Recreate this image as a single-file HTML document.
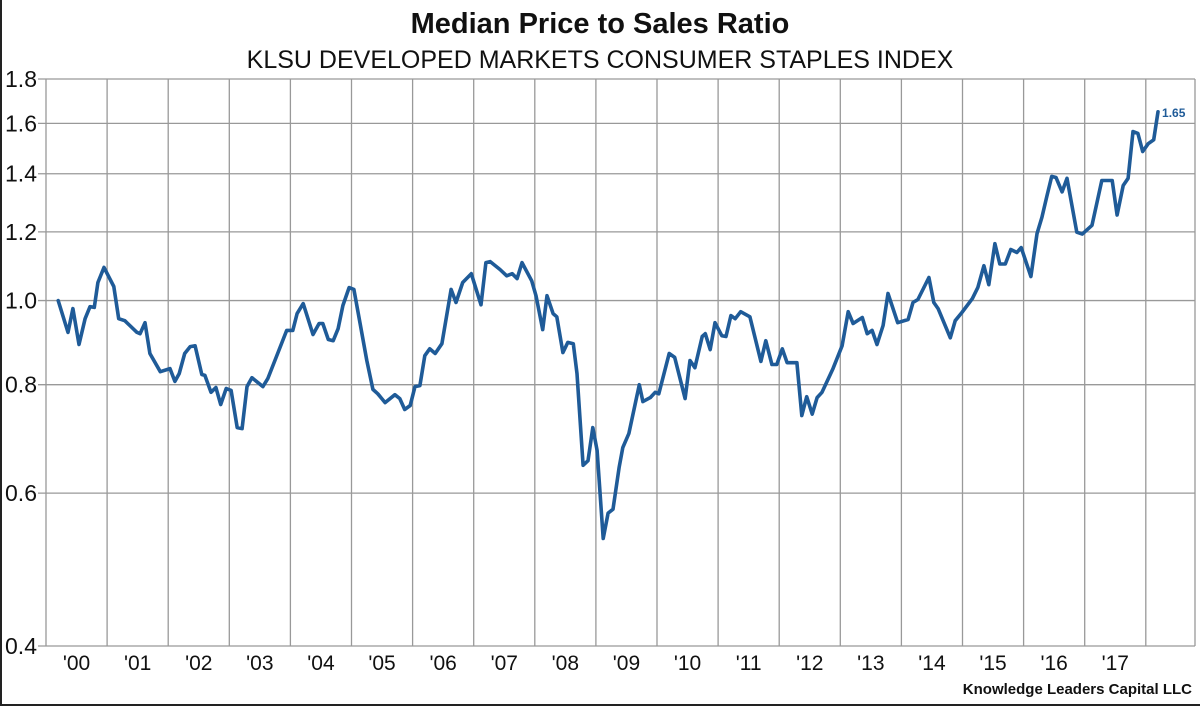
<!DOCTYPE html>
<html><head><meta charset="utf-8"><style>
html,body{margin:0;padding:0;background:#fff}
svg{display:block}
text{font-family:"Liberation Sans",Arial,sans-serif}
</style></head><body>
<svg id="chart" width="1200" height="706" viewBox="0 0 1200 706">
<rect x="0" y="0" width="1200" height="706" fill="#fff"/>
<line x1="1" y1="0" x2="1" y2="706" stroke="#222" stroke-width="2"/>
<line x1="0" y1="705" x2="1200" y2="705" stroke="#222" stroke-width="2"/>
<text x="600" y="33" text-anchor="middle" font-size="29" font-weight="bold" fill="#111">Median Price to Sales Ratio</text>
<text x="600" y="68" text-anchor="middle" font-size="25" fill="#111">KLSU DEVELOPED MARKETS CONSUMER STAPLES INDEX</text>
<g id="grid"></g>
<g id="yticks"></g>
<g id="xticks"></g>
<g id="series"></g>
<text x="1192" y="694" text-anchor="end" font-size="15" font-weight="bold" fill="#111">Knowledge Leaders Capital LLC</text>
</svg>
<script>
const yTickValues=[0.4,0.6,0.8,1.0,1.2,1.4,1.6,1.8];
const yTickLabels=["0.4","0.6","0.8","1.0","1.2","1.4","1.6","1.8"];
const xYearLabels=["'00","'01","'02","'03","'04","'05","'06","'07","'08","'09","'10","'11","'12","'13","'14","'15","'16","'17"];
const dates=[.20,.36,.44,.54,.64,.72,.79,.85,.95,1.11,1.19,1.29,1.49,1.54,1.62,1.70,1.87,2.03,2.11,2.18,2.27,2.36,2.44,2.55,2.60,2.70,2.78,2.86,2.95,3.03,3.13,3.21,3.29,3.37,3.55,3.63,3.83,3.94,4.04,4.11,4.21,4.37,4.47,4.53,4.62,4.70,4.78,4.86,4.96,5.04,5.14,5.25,5.35,5.43,5.55,5.71,5.79,5.87,5.96,6.04,6.12,6.20,6.28,6.37,6.48,6.63,6.71,6.82,6.96,7.12,7.20,7.27,7.43,7.54,7.63,7.71,7.79,7.95,8.02,8.13,8.20,8.30,8.36,8.46,8.54,8.63,8.69,8.79,8.87,8.95,9.02,9.12,9.20,9.28,9.38,9.44,9.54,9.71,9.77,9.89,9.97,10.03,10.20,10.29,10.46,10.54,10.62,10.74,10.79,10.87,10.95,11.06,11.13,11.21,11.28,11.37,11.52,11.70,11.78,11.88,11.96,12.05,12.13,12.29,12.37,12.45,12.54,12.62,12.70,12.88,13.03,13.13,13.21,13.36,13.44,13.52,13.60,13.70,13.78,13.94,14.11,14.19,14.27,14.45,14.53,14.60,14.80,14.88,14.99,15.16,15.25,15.35,15.43,15.53,15.61,15.70,15.79,15.89,15.96,16.12,16.22,16.30,16.38,16.46,16.53,16.63,16.71,16.87,16.96,17.12,17.28,17.45,17.53,17.63,17.71,17.79,17.87,17.95,18.04,18.13,18.20];
const values=[1.000,.919,.979,.890,.953,.984,.982,1.049,1.092,1.038,.953,.948,.919,.916,.943,.869,.828,.835,.807,.824,.869,.885,.887,.822,.820,.784,.794,.759,.792,.788,.714,.712,.796,.815,.796,.813,.883,.924,.924,.966,.992,.914,.941,.941,.902,.899,.928,.987,1.035,1.030,.941,.853,.790,.781,.763,.779,.771,.749,.757,.796,.798,.864,.880,.869,.892,1.030,.995,1.049,1.074,.989,1.106,1.109,1.086,1.068,1.074,1.060,1.106,1.054,1.013,.926,1.013,.966,.958,.871,.895,.892,.824,.646,.654,.714,.672,.532,.569,.575,.642,.677,.703,.800,.765,.773,.784,.781,.869,.860,.771,.853,.837,.909,.916,.878,.943,.911,.909,.961,.953,.971,.958,.851,.899,.844,.844,.880,.848,.848,.737,.775,.740,.773,.784,.835,.887,.971,.941,.956,.916,.924,.890,.936,1.019,.943,.951,.995,1.003,1.063,.995,.979,.906,.948,.969,1.005,1.035,1.097,1.043,1.163,1.102,1.102,1.145,1.136,1.151,1.066,1.194,1.247,1.318,1.390,1.386,1.334,1.383,1.199,1.193,1.221,1.375,1.375,1.255,1.357,1.383,1.566,1.558,1.485,1.516,1.532,1.650];
const lastLabel="1.65";

const NS="http://www.w3.org/2000/svg";
const L=46,R=1195,T=79,B=646,YW=61.1;
const yMin=0.4,yMax=1.8;
function ys(v){return T+(Math.log(yMax)-Math.log(v))/(Math.log(yMax)-Math.log(yMin))*(B-T);}
function xs(t){return L+t*YW;}
function mk(tag,attrs,parent){const e=document.createElementNS(NS,tag);for(const k in attrs)e.setAttribute(k,attrs[k]);parent.appendChild(e);return e;}
const grid=document.getElementById('grid'),yt=document.getElementById('yticks'),xt=document.getElementById('xticks'),ser=document.getElementById('series');
yTickValues.forEach((v,i)=>{
  const y=ys(v);
  const ln=mk('line',{x1:L-8,x2:R,y1:y,y2:y,stroke:'#999','stroke-width':1.3},grid);
  
  
  const tx=mk('text',{x:37,y:y+8,'text-anchor':'end','font-size':23,fill:'#111'},yt);
  tx.textContent=yTickLabels[i];
  
  
});
for(let k=0;k<=xYearLabels.length;k++){
  const x=xs(k);
  const ln=mk('line',{x1:x,x2:x,y1:T,y2:B,stroke:'#999','stroke-width':1.3},grid);
  
  
}
const rb=mk('line',{x1:R,x2:R,y1:T,y2:B,stroke:'#999','stroke-width':1.3},grid);


xYearLabels.forEach((lab,k)=>{
  const tx=mk('text',{x:xs(k+0.5),y:670,'text-anchor':'middle','font-size':21,fill:'#111'},xt);
  tx.textContent=lab;
  
  
});
const pts=dates.map((d,i)=>xs(d).toFixed(1)+','+ys(values[i]).toFixed(1)).join(' ');
const pl=mk('polyline',{points:pts,fill:'none',stroke:'#1f5b98','stroke-width':3.6,'stroke-linejoin':'round','stroke-linecap':'round'},ser);


const lx=xs(dates[dates.length-1]),ly=ys(values[values.length-1]);
const lt=mk('text',{x:lx+4,y:ly+5,'font-size':12,'font-weight':'bold',fill:'#1f5b98'},ser);
lt.textContent=lastLabel;


</script>
</body></html>
